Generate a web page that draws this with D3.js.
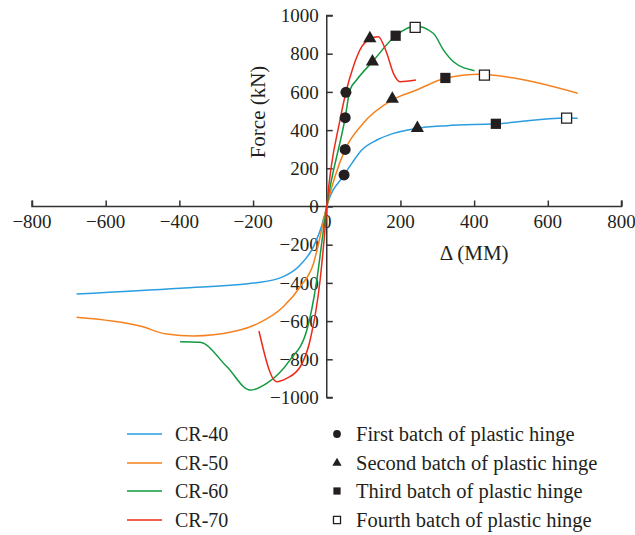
<!DOCTYPE html>
<html><head><meta charset="utf-8">
<script src="https://cdn.jsdelivr.net/npm/d3@7"></script>
<style>body{margin:0;background:#fff}svg{display:block}text{font-family:"Liberation Serif","Times New Roman",serif;fill:#231f20}</style>
</head><body><svg id="c" width="635" height="535"></svg>
<script>
const xTicks = [-800,-600,-400,-200,0,200,400,600,800];
const yTicks = [-1000,-800,-600,-400,-200,0,200,400,600,800,1000];
const seriesNames = ["CR-40","CR-50","CR-60","CR-70"];
const seriesColors = ["#2b9de0","#f5821f","#109a3f","#ec2a1c"];
const cr40 = [[-679,-458],[-398,-428],[-190,-399],[-118,-367],[-72,-306],[-36,-210],[-9,-71],[0,0],[47,165],[68,226],[95,296],[136,348],[181,383],[244,409],[326,423],[459,433],[651,463],[681,462]];
const cr50 = [[-679,-580],[-507,-626],[-434,-668],[-362,-678],[-253,-655],[-186,-612],[-118,-525],[-72,-420],[-36,-298],[-14,-123],[0,0],[50,299],[99,436],[178,558],[244,610],[322,671],[416,692],[500,675],[681,593]];
const cr60 = [[-398,-708],[-344,-711],[-271,-839],[-208,-961],[-163,-926],[-100,-804],[-54,-647],[-27,-385],[-9,-123],[0,0],[50,465],[63,610],[81,662],[124,758],[187,894],[240,945],[289,907],[317,819],[344,758],[401,711]];
const cr70 = [[-184,-652],[-136,-917],[-109,-900],[-72,-839],[-45,-699],[-18,-385],[-5,-123],[0,0],[36,453],[52,598],[72,732],[95,837],[117,877],[140,889],[163,802],[181,697],[199,653],[242,662]];
const seriesData = [cr40,cr50,cr60,cr70];
const batchNames = ["First batch of plastic hinge","Second batch of plastic hinge","Third batch of plastic hinge","Fourth batch of plastic hinge"];
const batch1 = [[47,165],[50,299],[50,465],[52,598]];
const batch2 = [[246,410],[178,563],[124,758],[117,880]];
const batch3 = [[459,433],[322,673],[187,894]];
const batch4 = [[651,463],[428,688],[240,938]];
const batches = [batch1,batch2,batch3,batch4];

const svg = d3.select("#c");
const x = d3.scaleLinear().domain([-800,800]).range([32,621.5]);
const y = d3.scaleLinear().domain([-1000,1000]).range([397.5,15.5]);
const axisColor = "#333";
const fs = 19;

// x axis
const gx = svg.append("g").attr("transform",`translate(0,${y(0)})`);
gx.call(d3.axisTop(x).tickValues(xTicks).tickSize(6).tickFormat(()=>""));
gx.selectAll("path,line").attr("stroke",axisColor).attr("stroke-width",1.5);
gx.select(".domain").attr("d",`M${x(-800)},-6V0H${x(800)}V-6`);
gx.selectAll(".lbl").data(xTicks).join("text")
  .attr("x",d=>x(d)).attr("y",21).attr("text-anchor","middle").attr("font-size",fs)
  .text(d=>d<0?"\u2212"+Math.abs(d):d);

// y axis
const gy = svg.append("g").attr("transform",`translate(${x(0)},0)`);
gy.call(d3.axisRight(y).tickValues(yTicks).tickSize(6).tickFormat(()=>""));
gy.selectAll("path,line").attr("stroke",axisColor).attr("stroke-width",1.5);
gy.select(".domain").attr("d",`M6,${y(1000)}H0V${y(-1000)}H6`);
gy.selectAll(".lbl").data(yTicks).join("text")
  .attr("x",-8).attr("y",d=>y(d)).attr("dy","0.35em").attr("text-anchor","end").attr("font-size",fs)
  .text(d=>d<0?"\u2212"+Math.abs(d):d);

svg.append("text").attr("x",x(400)).attr("y",260).attr("text-anchor","middle").attr("font-size",21).text("\u0394 (MM)");
svg.append("text").attr("transform",`translate(265,${112}) rotate(-90)`).attr("text-anchor","middle").attr("font-size",21).text("Force (kN)");

// curves
const line = d3.line().x(d=>x(d[0])).y(d=>y(d[1])).curve(d3.curveMonotoneX);
seriesData.forEach((s,i)=>{
  svg.append("path").datum(s).attr("d",line).attr("fill","none").attr("stroke",seriesColors[i]).attr("stroke-width",1.5);
});

// markers
const sym = [d3.symbolCircle,d3.symbolTriangle,d3.symbolSquare,d3.symbolSquare];
const symSize = [95,75,105,100];
function drawMarker(g,k,px,py,scale){
  const p = g.append("path").attr("d",d3.symbol().type(sym[k]).size(symSize[k]*scale)())
    .attr("transform",`translate(${px},${py})`);
  if(k===3) p.attr("fill","#fff").attr("stroke","#231f20").attr("stroke-width",1.3);
  else p.attr("fill","#231f20");
}
batches.forEach((b,k)=>{
  b.forEach(d=>drawMarker(svg,k,x(d[0]),y(d[1]),1));
});

// legend
const ly = [434,463,491,520];
seriesNames.forEach((n,i)=>{
  svg.append("line").attr("x1",127).attr("x2",162).attr("y1",ly[i]).attr("y2",ly[i]).attr("stroke",seriesColors[i]).attr("stroke-width",1.5);
  svg.append("text").attr("x",175).attr("y",ly[i]).attr("dy","0.35em").attr("font-size",20).text(n);
});
batchNames.forEach((n,k)=>{
  drawMarker(svg,k,337,ly[k],0.5);
  svg.append("text").attr("x",356).attr("y",ly[k]).attr("dy","0.35em").attr("font-size",20.5).text(n);
});
</script></body></html>
